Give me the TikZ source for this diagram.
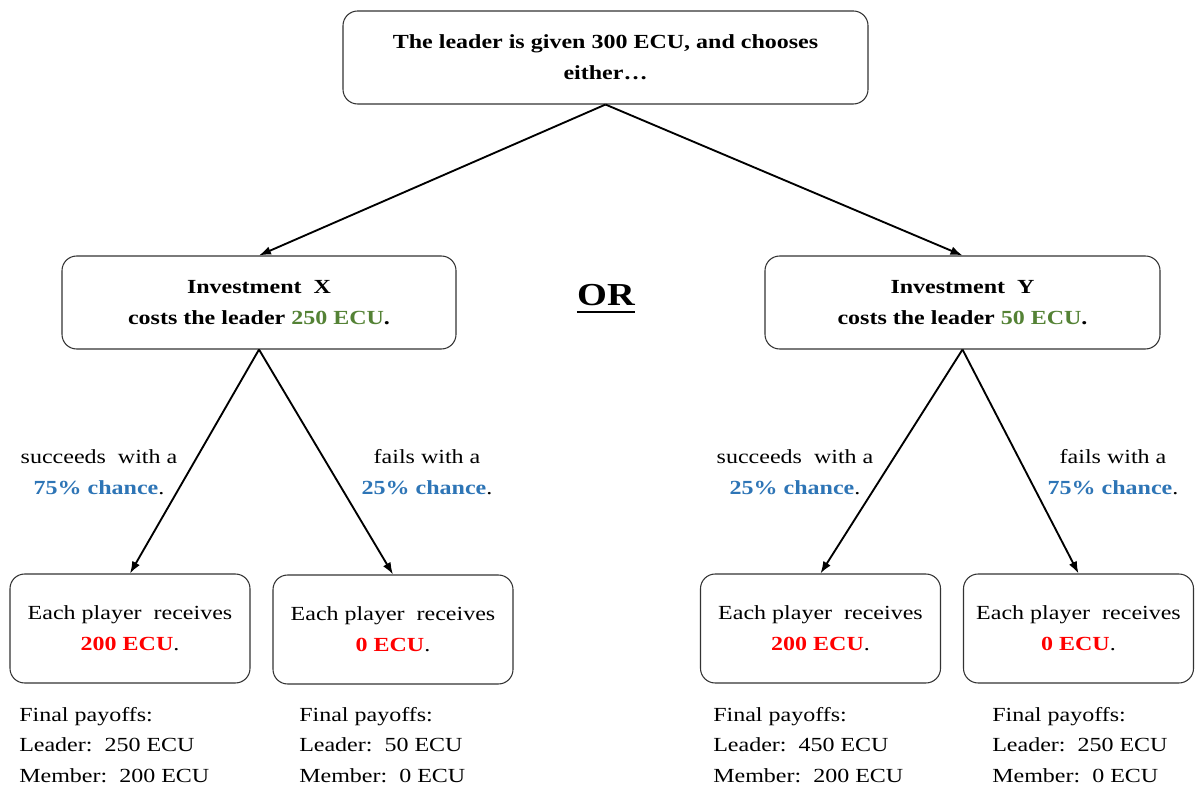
\documentclass[tikz,border=0pt]{standalone}
\usepackage{fontspec}
\setmainfont{Liberation Serif}[FakeStretch=1.2]
\usetikzlibrary{arrows.meta}
\definecolor{cgreen}{HTML}{548235}
\definecolor{cblue}{HTML}{2E75B6}
\definecolor{cred}{HTML}{FF0000}
\begin{document}
\begin{tikzpicture}[x=0.75pt,y=-0.75pt,
  txt/.style={font=\fontsize{15}{23}\selectfont},
  box/.style={txt, draw=black!80, line width=0.8pt, rounded corners=11pt, align=center, inner sep=0pt},
  bigbox/.style={box, minimum height=69.75pt},
  leafbox/.style={box, minimum width=180pt, minimum height=81.75pt},
  lbl/.style={txt, align=center, inner sep=0pt},
  pay/.style={txt, align=left, inner sep=0pt, anchor=west},
  conn/.style={line width=1.4pt, -{Latex[length=9pt,width=6.5pt]}},
]
\useasboundingbox (0,0) rectangle (1195,787);

\node[bigbox, minimum width=393.75pt] (top) at (605.5,57.5)
  {\textbf{The leader is given 300 ECU, and chooses}\\\textbf{either…}};
\node[bigbox, minimum width=295.5pt] (X) at (259,302.5)
  {\textbf{Investment\ \ X}\\\textbf{costs the leader \textcolor{cgreen}{250 ECU}.}};
\node[bigbox, minimum width=296.25pt] (Y) at (962.5,302.5)
  {\textbf{Investment\ \ Y}\\\textbf{costs the leader \textcolor{cgreen}{50 ECU}.}};

\node[inner sep=0pt, anchor=base, font=\fontsize{24}{28}\selectfont\bfseries] (or) at (606,306) {OR};
\draw[line width=2.2pt] ([yshift=-4.5pt]or.base west) -- ([yshift=-4.5pt]or.base east);

\node[leafbox] (b1) at (130,628.5) {Each player\ \ receives\\\textbf{\textcolor{cred}{200 ECU}}.};
\node[leafbox] (b2) at (393,629.5) {Each player\ \ receives\\\textbf{\textcolor{cred}{0 ECU}}.};
\node[leafbox] (b3) at (820.5,628.5) {Each player\ \ receives\\\textbf{\textcolor{cred}{200 ECU}}.};
\node[leafbox, minimum width=172.5pt] (b4) at (1078.5,628.5) {Each player\ \ receives\\\textbf{\textcolor{cred}{0 ECU}}.};

\draw[conn] (top.south) -- (X.north);
\draw[conn] (top.south) -- (Y.north);
\draw[conn] (X.south) -- (b1.north);
\draw[conn] (X.south) -- (b2.north);
\draw[conn] (Y.south) -- (b3.north);
\draw[conn] (Y.south) -- (b4.north);

\node[lbl] (l1) at (99,472) {succeeds\ \ with a\\\textbf{\textcolor{cblue}{75\% chance}}.};
\node[lbl] (l2) at (427,472) {fails with a\\\textbf{\textcolor{cblue}{25\% chance}}.};
\node[lbl] (l3) at (795,472) {succeeds\ \ with a\\\textbf{\textcolor{cblue}{25\% chance}}.};
\node[lbl] (l4) at (1113,472) {fails with a\\\textbf{\textcolor{cblue}{75\% chance}}.};

\node[pay] (p1) at (19,745) {Final payoffs:\\Leader:\ \ 250 ECU\\Member:\ \ 200 ECU};
\node[pay] (p2) at (299,745) {Final payoffs:\\Leader:\ \ 50 ECU\\Member:\ \ 0 ECU};
\node[pay] (p3) at (713,745) {Final payoffs:\\Leader:\ \ 450 ECU\\Member:\ \ 200 ECU};
\node[pay] (p4) at (992,745) {Final payoffs:\\Leader:\ \ 250 ECU\\Member:\ \ 0 ECU};
\end{tikzpicture}
\end{document}
